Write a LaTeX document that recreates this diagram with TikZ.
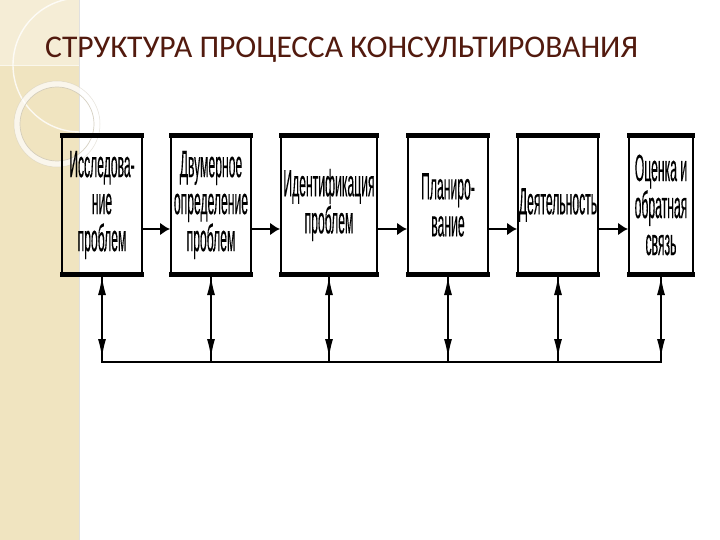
\documentclass[tikz,border=0pt]{standalone}
\usepackage{fontspec}
\setmainfont{Carlito}
\newfontfamily\boxfont[FakeStretch=0.32,FakeBold=0.15]{Liberation Sans}
\usetikzlibrary{arrows.meta}
\definecolor{stripc}{RGB}{240,228,192}
\definecolor{striptop}{RGB}{245,237,214}
\definecolor{titlec}{RGB}{82,26,14}
\definecolor{ringedge}{RGB}{205,198,180}
\begin{document}
\begin{tikzpicture}[x=1pt,y=-1pt,
  box/.style={draw, line width=2pt, inner sep=0pt, minimum height=136pt,
    align=center, font=\boxfont\fontsize{38}{37}\selectfont},
  thickedge/.style={line width=5pt},
  harrow/.style={line width=2pt, -{Latex[length=10pt,width=13pt]}},
  vline/.style={line width=1.1pt},
  varrow/.style={line width=1.1pt, {Latex[length=18pt,width=8pt]}-{Latex[length=18pt,width=8pt]},
    shorten <=5pt, shorten >=5pt},
  bus/.style={line width=2.5pt}]
\useasboundingbox (0,0) rectangle (720,540);
\fill[white] (0,0) rectangle (720,540);
% decorative strip
\fill[stripc] (0,0) rectangle (79,540);
\fill[striptop] (0,0) rectangle (79,65);
\draw[white!70!stripc, line width=0.6pt] (0,65) -- (79,65);
\draw[black!12, line width=0.8pt] (79,0) -- (79,540);
\begin{scope}
  \clip (0,0) rectangle (79,540);
  \draw[white, line width=1.4pt, opacity=0.8] (80,65) circle[radius=67pt];
\end{scope}
\draw[white, line width=6pt, opacity=0.7] (57,124) circle[radius=40pt];
\draw[ringedge, line width=0.7pt, opacity=0.8] (57,124) circle[radius=37pt];
\draw[ringedge, line width=0.5pt, opacity=0.5] (57,124) circle[radius=43pt];
% title
\node[anchor=base west, text=titlec, inner sep=0pt, font=\fontsize{31.6}{36}\selectfont] (title) at (45,58)
  {СТРУКТУРА ПРОЦЕССА КОНСУЛЬТИРОВАНИЯ};
% boxes
\node[box, minimum width=80pt] (b1) at (102,205) {Исследова-\\ние\\проблем};
\node[box, minimum width=80pt] (b2) at (211,205) {Двумерное\\определение\\проблем};
\node[box, minimum width=96pt] (b3) at (329,205) {Идентификация\\проблем};
\node[box, minimum width=80pt] (b4) at (448,205) {Планиро-\\вание};
\node[box, minimum width=80pt] (b5) at (558,205) {Деятельность};
\node[box, minimum width=64pt] (b6) at (661,205) {Оценка и\\обратная\\связь};
\foreach \b in {b1,b2,b3,b4,b5,b6}{
  \draw[thickedge] ([xshift=-1pt]\b.north west) -- ([xshift=1pt]\b.north east);
  \draw[thickedge] ([xshift=-1pt]\b.south west) -- ([xshift=1pt]\b.south east);
}
% horizontal arrows
\coordinate (ay) at (0,229);
\draw[harrow] (b1.east |- ay) -- (b2.west |- ay);
\draw[harrow] (b2.east |- ay) -- (b3.west |- ay);
\draw[harrow] (b3.east |- ay) -- (b4.west |- ay);
\draw[harrow] (b4.east |- ay) -- (b5.west |- ay);
\draw[harrow] (b5.east |- ay) -- (b6.west |- ay);
% vertical connectors and bus
\coordinate (busy) at (0,362);
\foreach \b in {b1,b2,b3,b4,b5,b6}{
  \draw[vline] ([yshift=2pt]\b.south) -- (\b.south |- busy);
  \draw[varrow] ([yshift=2pt]\b.south) -- (\b.south |- busy);
}
\draw[bus] ([xshift=-0.6pt]b1.south |- busy) -- ([xshift=0.6pt]b6.south |- busy);
\end{tikzpicture}
\end{document}
